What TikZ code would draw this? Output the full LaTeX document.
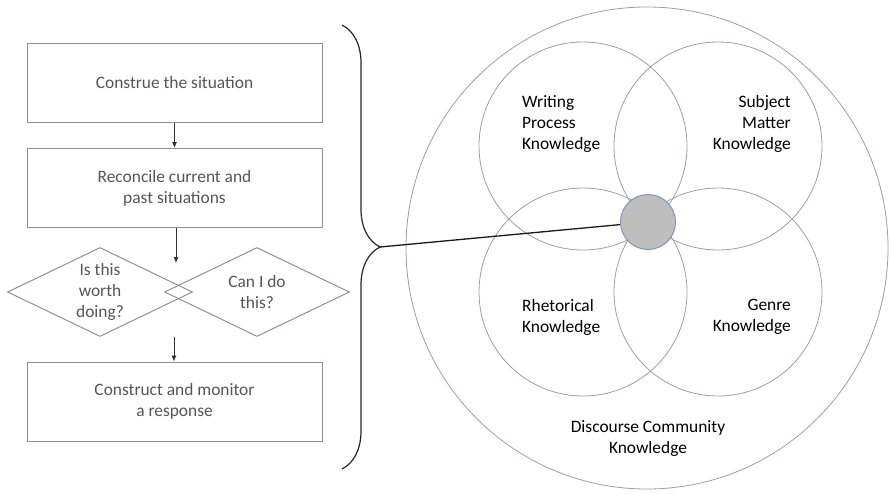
\documentclass[tikz,border=0pt]{standalone}
\usepackage{fontspec}
\setmainfont{Carlito}
\usetikzlibrary{shapes.geometric,decorations.pathreplacing,arrows.meta}
\definecolor{flowgray}{RGB}{150,142,142}
\definecolor{flowtext}{RGB}{85,85,85}
\definecolor{ringgray}{RGB}{165,155,155}
\definecolor{corefill}{RGB}{190,190,190}
\definecolor{coreline}{RGB}{125,150,190}

\begin{document}
\begin{tikzpicture}[x=1pt, y=-1pt,
                    stepbox/.style = {
                      draw=flowgray, line width=1pt,
                      minimum width=295pt, minimum height=79pt,
                      inner sep=0pt, align=center, text=flowtext,
                      font=\fontsize{17.4}{21}\selectfont
                    },
                    question/.style = {
                      diamond, draw=flowgray, line width=1pt,
                      minimum width=185pt, minimum height=89pt,
                      aspect=2.08, inner sep=0pt,
                      align=center, text=flowtext,
                      font=\fontsize{17.4}{21}\selectfont
                    },
                    ring/.style = {
                      circle, draw=ringgray, line width=0.8pt,
                      inner sep=0pt
                    },
                    area/.style = {
                      inner sep=0pt, text=black,
                      font=\fontsize{17.4}{21}\selectfont
                    },
                    flow/.style = {
                      -{Latex[length=6pt,width=5pt]},
                      line width=0.8pt, draw=black!80
                    }]
    \useasboundingbox (0,0) rectangle (891,493);

    \node[stepbox] (construe) at (174.5,82.5) {Construe the situation};
    \node[stepbox] (reconcile) at (174.5,188) {Reconcile current and\\past situations};
    \node[question] (worth) at (100,292) {Is this\\worth\\doing?};
    \node[question] (cando) at (257,292) {Can I do\\this?};
    \node[stepbox] (construct) at (174.5,401.5) {Construct and monitor\\a response};

    \coordinate (choice) at (176,263);
    \coordinate (decided) at (174,337);
    \draw[flow] (construe.south) -- (reconcile.north);
    \draw[flow] (reconcile.south -| choice) -- (choice);
    \draw[flow] (decided) -- (decided |- construct.north);

    \draw[decorate, decoration={brace, amplitude=38pt}, line width=1.2pt, black!85]
      (342,25) -- (342,469);
    \coordinate (bracetip) at (380,247);

    \node[ring, minimum size=482pt] (community) at (647,248) {};
    \node[ring, minimum size=208pt] (writing) at (583,146) {};
    \node[ring, minimum size=208pt] (subject) at (718,146) {};
    \node[ring, minimum size=208pt] (rhetoric) at (583,292) {};
    \node[ring, minimum size=208pt] (genre) at (718,292) {};
    \node[circle, fill=corefill, draw=coreline, line width=1pt,
          minimum size=55pt, inner sep=0pt] (core) at (648,222) {};

    \node[area, anchor=west, align=left] (writinglabel) at (522,124) {Writing\\Process\\Knowledge};
    \node[area, anchor=east, align=right] (subjectlabel) at (791,124) {Subject\\Matter\\Knowledge};
    \node[area, anchor=west, align=left] (rhetoriclabel) at (522,317) {Rhetorical\\Knowledge};
    \node[area, anchor=east, align=right] (genrelabel) at (791,317) {Genre\\Knowledge};
    \node[area, align=center] (communitylabel) at (648,439) {Discourse Community\\Knowledge};

    \draw[line width=1.3pt, black!90] (bracetip) -- (core);
\end{tikzpicture}
\end{document}
